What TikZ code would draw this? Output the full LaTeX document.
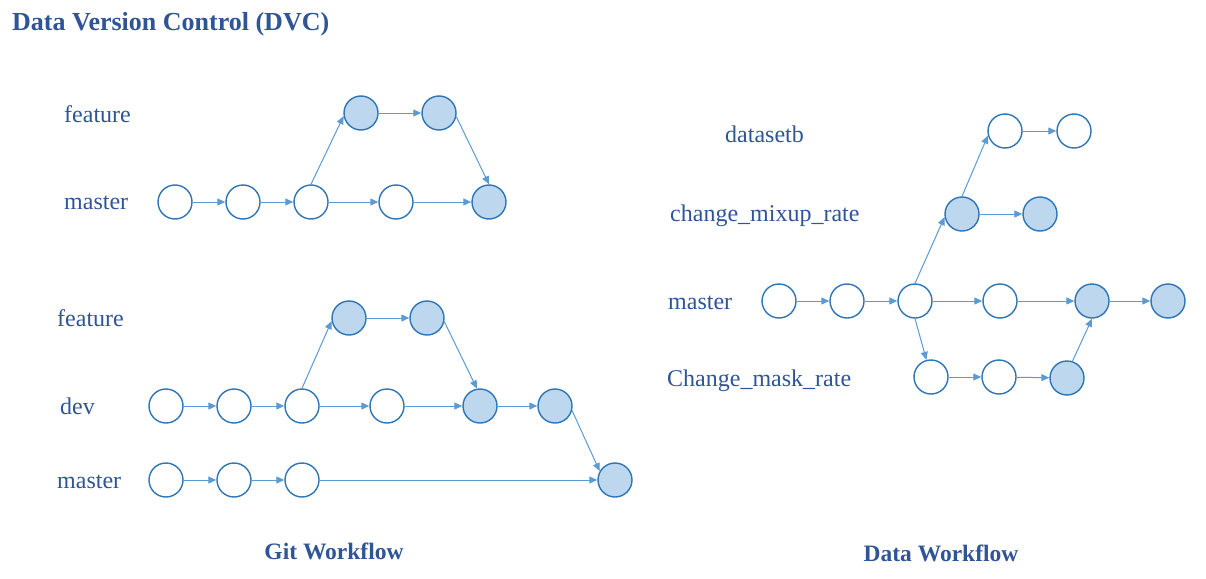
\documentclass[tikz,border=0pt]{standalone}
\usepackage{fontspec}
\setmainfont{Liberation Serif}
\usetikzlibrary{arrows.meta}
\definecolor{cstroke}{HTML}{2E75B6}
\definecolor{cfill}{HTML}{BDD7EE}
\definecolor{cedge}{HTML}{5B9BD5}
\definecolor{ctext}{HTML}{2F5597}
\begin{document}
\begin{tikzpicture}[x=1pt,y=-1pt,
  commit/.style={circle,draw=cstroke,line width=1.4pt,fill=white,minimum size=34pt,inner sep=0pt},
  done/.style={commit,fill=cfill},
  edge/.style={draw=cedge,line width=1pt,-{Triangle[length=8pt,width=7pt]}},
  lbl/.style={anchor=base west,text=ctext,font=\fontsize{24}{28}\selectfont,inner sep=0pt},
  head/.style={text=ctext,font=\fontsize{23.5}{28}\selectfont\bfseries,inner sep=0pt,anchor=base}]
\useasboundingbox (0,0) rectangle (1206,578);
\fill[white] (0,0) rectangle (1206,578);
% titles
\node[head,anchor=base west,font=\fontsize{26}{30}\selectfont\bfseries] (title) at (12,31) {Data Version Control (DVC)};
\node[head] (gitt) at (334,559) {Git Workflow};
\node[head] (datat) at (941,561) {Data Workflow};
% ---------- Git top ----------
\node[lbl] (la1) at (64,122) {feature};
\node[lbl] (la2) at (64,209) {master};
\node[commit] (a1) at (175,202) {};
\node[commit] (a2) at (243,202) {};
\node[commit] (a3) at (311,202) {};
\node[commit] (a4) at (396,202) {};
\node[done] (a5) at (489,202) {};
\node[done] (af1) at (361,113) {};
\node[done] (af2) at (439,113) {};
\draw[edge] (a1) -- (a2);
\draw[edge] (a2) -- (a3);
\draw[edge] (a3) -- (a4);
\draw[edge] (a4) -- (a5);
\draw[edge] (a3.north) -- (af1.190);
\draw[edge] (af1) -- (af2);
\draw[edge] (af2.-12) -- (a5.north);
% ---------- Git bottom ----------
\node[lbl] (lb1) at (57,326) {feature};
\node[lbl] (lb2) at (60,414) {dev};
\node[lbl] (lb3) at (57,488) {master};
\node[done] (bf1) at (349,318) {};
\node[done] (bf2) at (427,318) {};
\node[commit] (d1) at (166,406) {};
\node[commit] (d2) at (234,406) {};
\node[commit] (d3) at (302,406) {};
\node[commit] (d4) at (387,406) {};
\node[done] (d5) at (480,406) {};
\node[done] (d6) at (555,406) {};
\node[commit] (mm1) at (166,480) {};
\node[commit] (mm2) at (234,480) {};
\node[commit] (mm3) at (302,480) {};
\node[done] (mm4) at (615,480) {};
\draw[edge] (d1) -- (d2);
\draw[edge] (d2) -- (d3);
\draw[edge] (d3) -- (d4);
\draw[edge] (d4) -- (d5);
\draw[edge] (d5) -- (d6);
\draw[edge] (d3.north) -- (bf1.190);
\draw[edge] (bf1) -- (bf2);
\draw[edge] (bf2.-12) -- (d5.100);
\draw[edge] (d6.-15) -- (mm4.150);
\draw[edge] (mm1) -- (mm2);
\draw[edge] (mm2) -- (mm3);
\draw[edge] (mm3) -- (mm4);
% ---------- Data workflow ----------
\node[lbl] (lc1) at (725,142) {datasetb};
\node[lbl] (lc2) at (670,221) {change\_mixup\_rate};
\node[lbl] (lc3) at (668,309) {master};
\node[lbl] (lc4) at (667,386) {Change\_mask\_rate};
\node[commit] (g1) at (1005,131) {};
\node[commit] (g2) at (1074,131) {};
\node[done] (c1) at (962,214) {};
\node[done] (c2) at (1040,214) {};
\node[commit] (m1) at (779,301) {};
\node[commit] (m2) at (847,301) {};
\node[commit] (m3) at (915,301) {};
\node[commit] (m4) at (1000,301) {};
\node[done] (m5) at (1092,301) {};
\node[done] (m6) at (1168,301) {};
\node[commit] (k1) at (931,377) {};
\node[commit] (k2) at (999,377) {};
\node[done] (k3) at (1067,378) {};
\draw[edge] (m1) -- (m2);
\draw[edge] (m2) -- (m3);
\draw[edge] (m3) -- (m4);
\draw[edge] (m4) -- (m5);
\draw[edge] (m5) -- (m6);
\draw[edge] (m3.north) -- (c1.190);
\draw[edge] (c1) -- (c2);
\draw[edge] (c1.north) -- (g1.195);
\draw[edge] (g1) -- (g2);
\draw[edge] (m3.south) -- (k1.105);
\draw[edge] (k1) -- (k2);
\draw[edge] (k2) -- (k3);
\draw[edge] (k3.72) -- (m5.south);
\end{tikzpicture}
\end{document}
